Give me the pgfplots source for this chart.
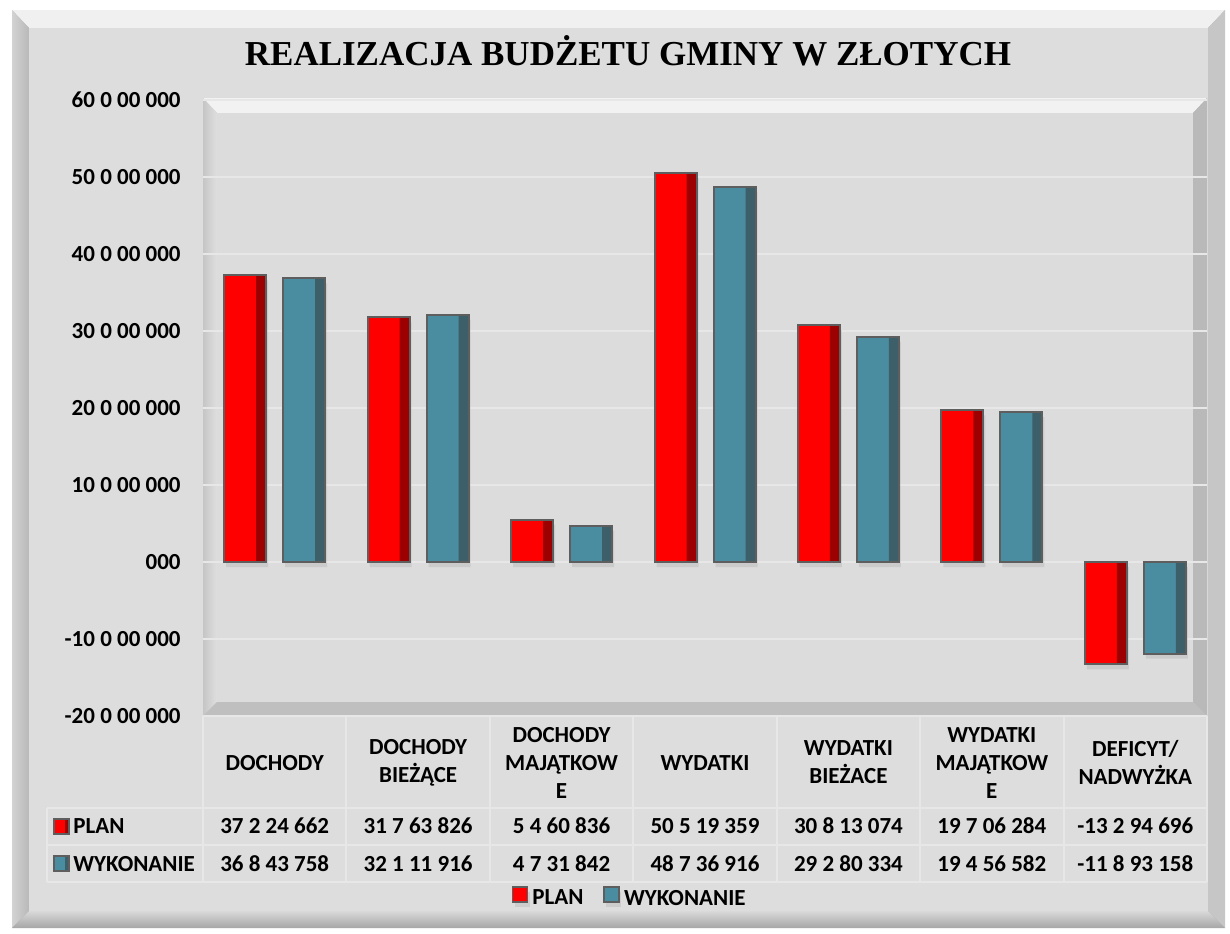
\documentclass[border=0pt]{standalone}
\usepackage{fontspec}
\setmainfont{Carlito}
\newfontfamily\titlefont{Liberation Serif}
\usepackage{pgfplots}
\usepackage{pgfplotstable}
\pgfplotsset{compat=1.18}
\usetikzlibrary{shadows}

\definecolor{face}{HTML}{DDDDDD}
\definecolor{plotface}{HTML}{DCDCDC}
\definecolor{gridc}{HTML}{E7E7E7}
\definecolor{barline}{HTML}{5E5E5E}
\definecolor{redmain}{HTML}{FF0000}
\definecolor{reddark}{HTML}{9C0000}
\definecolor{tealmain}{HTML}{4A8CA0}
\definecolor{tealdark}{HTML}{3D5F6A}

\pgfplotstableread{
x plan wyk
0 37224662 36843758
1 31763826 32111916
2 5460836 4731842
3 50519359 48736916
4 30813074 29280334
5 19706284 19456582
6 -13294696 -11893158
}\budget

\newcommand{\lbl}{\bfseries\fontsize{11.5}{14}\selectfont}

\begin{document}
\begin{tikzpicture}
% frame and plot area bevels, in pixel units of the reference
\begin{scope}[x=0.5pt,y=-0.5pt]
  \fill[white] (0,0) rectangle (1230,933);
  \fill[gray!75] (12,10) rectangle (1225,928);
  \fill[gray!12] (12,10) -- (1225,10) -- (1208,28) -- (29,28) -- cycle;
  \shade[left color=gray!35, right color=gray!55] (12,10) -- (29,28) -- (29,911) -- (12,928) -- cycle;
  \fill[gray!45] (1225,10) -- (1225,928) -- (1208,911) -- (1208,28) -- cycle;
  \shade[top color=gray!30, bottom color=gray!70] (12,928) -- (29,911) -- (1208,911) -- (1225,928) -- cycle;
  \fill[face] (29,28) rectangle (1208,911);
  % plot area
  \fill[gray!55] (203,98) rectangle (1207,716);
  \fill[gray!10] (203,98) -- (1207,98) -- (1193,113) -- (217,113) -- cycle;
  \shade[left color=gray!45, right color=gray!25] (203,98) -- (217,113) -- (217,702) -- (203,716) -- cycle;
  \fill[gray!55] (1207,98) -- (1207,716) -- (1193,702) -- (1193,113) -- cycle;
  \fill[gray!50] (203,716) -- (217,702) -- (1193,702) -- (1207,716) -- cycle;
  \fill[plotface] (217,113) rectangle (1193,702);
  % data table grid
  \foreach \k in {0,...,7} \draw[gridc, line width=1pt] ({203+143.43*\k},716) -- ({203+143.43*\k},882);
  \draw[gridc, line width=1pt] (47,808) -- (47,882);
  \foreach \yy in {808,845,882} \draw[gridc, line width=1pt] (47,\yy) -- (1207,\yy);
\end{scope}

\begin{axis}[
    at={(101.5pt,-358pt)}, anchor=south west,
    scale only axis, width=502pt, height=308pt,
    ybar, bar width=21pt,
    xmin=-0.5, xmax=6.5, ymin=-20000000, ymax=60000000,
    xtick={0,...,6},
    xticklabels={DOCHODY,{DOCHODY\\BIEŻĄCE},{DOCHODY\\MAJĄTKOW\\E},WYDATKI,{WYDATKI\\BIEŻACE},{WYDATKI\\MAJĄTKOW\\E},{DEFICYT/\\NADWYŻKA}},
    xticklabel style={font=\lbl, align=center, anchor=center, yshift=-19pt},
    ytick={-20000000,-10000000,0,10000000,20000000,30000000,40000000,50000000,60000000},
    yticklabels={-20 0 00 000,-10 0 00 000,000,10 0 00 000,20 0 00 000,30 0 00 000,40 0 00 000,50 0 00 000,60 0 00 000},
    yticklabel style={font=\lbl, anchor=east, inner sep=0pt, xshift=-11pt},
    scaled y ticks=false,
    ymajorgrids, major grid style={gridc, line width=0.8pt},
    axis line style={draw=none}, tick style={draw=none},
    axis background/.style={fill=none},
    clip=false,
    legend columns=2,
    legend style={at={(0.426,-0.297)}, anchor=center, draw=none, fill=none, font=\lbl,
      /tikz/every even column/.append style={column sep=8pt}},
    legend image code/.code={\draw[#1, draw=barline, line width=0.8pt] (0pt,-1.5pt) rectangle (7.5pt,6pt);},
]
% bar faces
\addplot[fill=redmain, draw=none, bar shift=-14.75pt,
  drop shadow={shadow xshift=1pt, shadow yshift=-2.5pt, opacity=0.18}] table[x=x, y=plan] {\budget};
\addplot[fill=tealmain, draw=none, bar shift=14.75pt,
  drop shadow={shadow xshift=1pt, shadow yshift=-2.5pt, opacity=0.18}] table[x=x, y=wyk] {\budget};
% darker right side of each bar
\addplot[fill=reddark, draw=none, bar width=5pt, bar shift=-6.75pt, forget plot] table[x=x, y=plan] {\budget};
\addplot[fill=tealdark, draw=none, bar width=5pt, bar shift=22.75pt, forget plot] table[x=x, y=wyk] {\budget};
% outlines
\addplot[fill=none, draw=barline, line width=1pt, bar shift=-14.75pt, forget plot] table[x=x, y=plan] {\budget};
\addplot[fill=none, draw=barline, line width=1pt, bar shift=14.75pt, forget plot] table[x=x, y=wyk] {\budget};
\legend{PLAN,WYKONANIE}
\end{axis}

\begin{scope}[x=0.5pt,y=-0.5pt]
  \node[font=\titlefont\bfseries\fontsize{17.5}{20}\selectfont, anchor=base] at (628,65) {REALIZACJA BUDŻETU GMINY W ZŁOTYCH};
  \foreach \v [count=\i from 0] in {37 2 24 662,31 7 63 826,5 4 60 836,50 5 19 359,30 8 13 074,19 7 06 284,-13 2 94 696}
    \node[font=\lbl] at ({274.7+143.43*\i},826) {\v};
  \foreach \v [count=\i from 0] in {36 8 43 758,32 1 11 916,4 7 31 842,48 7 36 916,29 2 80 334,19 4 56 582,-11 8 93 158}
    \node[font=\lbl] at ({274.7+143.43*\i},864) {\v};
  \fill[redmain] (54,819) rectangle (69,834);
  \fill[reddark] (65,819) rectangle (69,834);
  \draw[barline, line width=0.8pt] (54,819) rectangle (69,834);
  \fill[tealmain] (54,856) rectangle (69,871);
  \fill[tealdark] (65,856) rectangle (69,871);
  \draw[barline, line width=0.8pt] (54,856) rectangle (69,871);
  \node[font=\lbl, anchor=west, inner sep=0pt] at (73,826) {PLAN};
  \node[font=\lbl, anchor=west, inner sep=0pt] at (73,864) {WYKONANIE};
\end{scope}
\end{tikzpicture}
\end{document}
